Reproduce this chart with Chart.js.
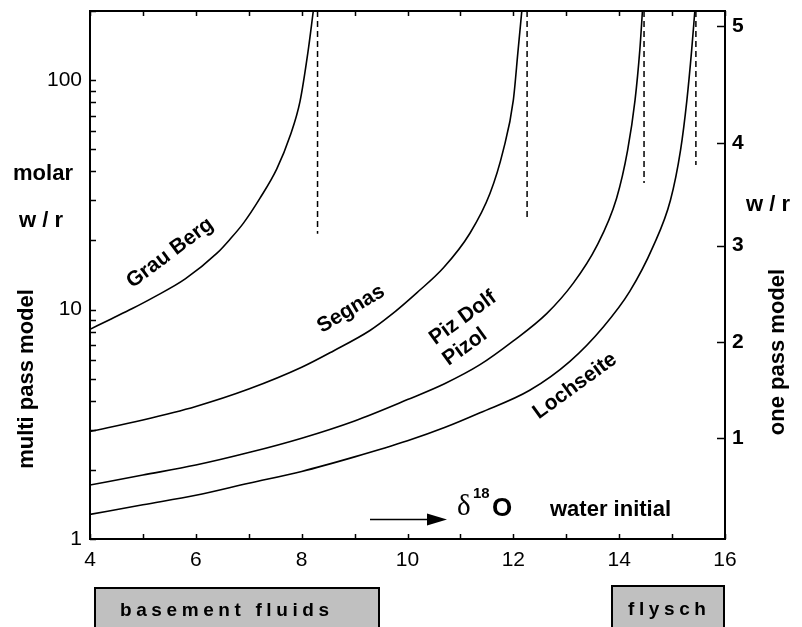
<!DOCTYPE html>
<html>
<head>
<meta charset="utf-8">
<script src="https://cdn.jsdelivr.net/npm/chart.js@4/dist/chart.umd.min.js"></script>
<style>
html,body{margin:0;padding:0;background:#fff;}
#wrap{width:802px;height:627px;position:relative;}
</style>
</head>
<body>
<div id="wrap"><canvas id="c" width="802" height="627"></canvas></div>
<script>
// x: initial δ18O of the water (‰), y: molar water/rock ratio (multi pass model)
const grauBergX = [4.0, 4.4, 4.8, 5.2, 5.8, 6.4, 6.65, 6.9, 7.21, 7.53, 7.78, 7.97, 8.12, 8.22];
const grauBergY = [8.2, 9.1, 10.1, 11.3, 13.6, 17.6, 20.3, 23.8, 30.5, 41, 57, 81, 133, 200];

const segnasX = [4.0, 5.0, 6.0, 7.0, 8.0, 8.6, 9.29, 9.67, 10.17, 10.68, 11.18, 11.56, 11.81, 12.0, 12.09, 12.16];
const segnasY = [2.94, 3.3, 3.78, 4.5, 5.6, 6.6, 8.1, 9.4, 11.8, 15.2, 21.5, 32.1, 49.5, 81.8, 135, 200];

const pizDolfX = [4.0, 5.0, 6.0, 7.0, 8.0, 9.0, 10.0, 10.7, 11.37, 12.0, 12.63, 13.13, 13.57, 13.95, 14.16, 14.3, 14.39, 14.44];
const pizDolfY = [1.72, 1.9, 2.1, 2.38, 2.75, 3.27, 4.05, 4.75, 5.75, 7.3, 9.6, 13.0, 18.8, 30.5, 49.5, 81.8, 135, 200];

const lochseiteX = [4.0, 5.0, 6.0, 7.0, 8.0, 9.0, 10.0, 10.7, 11.37, 12.31, 13.07, 13.7, 14.2, 14.64, 14.97, 15.16, 15.28, 15.37, 15.43];
const lochseiteY = [1.28, 1.41, 1.55, 1.75, 1.97, 2.28, 2.68, 3.06, 3.55, 4.45, 5.95, 8.4, 12.0, 18.8, 30.0, 49.5, 81.8, 135, 200];

// vertical dashed limits: position and lower end
const limitX = [8.3, 12.26, 14.47, 15.45];
const limitLow = [21.4, 25.0, 35.6, 42.6];
const limitHigh = 200;

// axes
const xTickValues = [4, 5, 6, 7, 8, 9, 10, 11, 12, 13, 14, 15, 16];
const xTickLabels = ['4', '', '6', '', '8', '', '10', '', '12', '', '14', '', '16'];
const yLabelValues = [1, 10, 100];
const yLabelTexts = ['1', '10', '100'];
const yMinorValues = [2, 3, 4, 5, 6, 7, 8, 9, 20, 30, 40, 50, 60, 70, 80, 90, 200];
// one pass model scale, placed at the equivalent multi pass ratio
const onePassLabels = ['1', '2', '3', '4', '5'];
const onePassAtMultiPass = [2.75, 7.2, 19.0, 53.0, 172.0];

const curveNames = ['Grau Berg', 'Segnas', 'Piz Dolf / Pizol', 'Lochseite'];

const FONT = '"Liberation Sans", Arial, Helvetica, sans-serif';

function curve(label, xs, ys) {
  return {
    label,
    data: xs.map((x, i) => ({ x, y: ys[i] })),
    borderColor: '#000',
    borderWidth: 1.6,
    pointRadius: 0,
    fill: false,
    cubicInterpolationMode: 'monotone',
    xAxisID: 'x',
    yAxisID: 'y'
  };
}

const datasets = [
  curve(curveNames[0], grauBergX, grauBergY),
  curve(curveNames[1], segnasX, segnasY),
  curve(curveNames[2], pizDolfX, pizDolfY),
  curve(curveNames[3], lochseiteX, lochseiteY)
];
limitX.forEach((x, i) => {
  datasets.push({
    label: 'limit ' + (i + 1),
    data: [{ x, y: limitHigh }, { x, y: limitLow[i] }],
    borderColor: '#000',
    borderWidth: 1.5,
    borderDash: [6, 4],
    pointRadius: 0,
    tension: 0,
    fill: false,
    xAxisID: 'x',
    yAxisID: 'y'
  });
});

function noPad(s) {
  s.paddingTop = 0; s.paddingBottom = 0; s.paddingLeft = 0; s.paddingRight = 0;
}

const decorations = {
  id: 'decorations',
  afterDraw(chart) {
    const ctx = chart.ctx;
    const a = chart.chartArea;
    const xs = chart.scales.x, ys = chart.scales.y, y2 = chart.scales.y2;
    ctx.save();
    ctx.strokeStyle = '#000';
    ctx.fillStyle = '#000';

    // frame
    ctx.lineWidth = 2;
    ctx.strokeRect(a.left, a.top, a.right - a.left, a.bottom - a.top);

    // inward tick marks
    ctx.lineWidth = 1.5;
    ctx.beginPath();
    xTickValues.forEach(v => {
      const px = Math.round(xs.getPixelForValue(v)) + 0.5;
      ctx.moveTo(px, a.bottom); ctx.lineTo(px, a.bottom - 5);
      ctx.moveTo(px, a.top); ctx.lineTo(px, a.top + 5);
    });
    yLabelValues.concat(yMinorValues).forEach(v => {
      const py = Math.round(ys.getPixelForValue(v)) + 0.5;
      ctx.moveTo(a.left, py); ctx.lineTo(a.left + 6, py);
    });
    onePassAtMultiPass.forEach(v => {
      const py = Math.round(y2.getPixelForValue(v)) + 0.5;
      ctx.moveTo(a.right, py); ctx.lineTo(a.right - 8, py);
    });
    ctx.stroke();

    // axis titles
    ctx.font = 'bold 22px ' + FONT;
    ctx.textAlign = 'center';
    ctx.textBaseline = 'middle';
    ctx.fillText('molar', 43, 174);
    ctx.fillText('w / r', 41, 221);
    ctx.fillText('w / r', 768, 205);
    ctx.save();
    ctx.translate(27, 379);
    ctx.rotate(-Math.PI / 2);
    ctx.fillText('multi pass model', 0, 0);
    ctx.restore();
    ctx.save();
    ctx.translate(778, 352);
    ctx.rotate(-Math.PI / 2);
    ctx.fillText('one pass model', 0, 0);
    ctx.restore();

    // curve names
    const tag = (t, x, y, deg) => {
      ctx.save();
      ctx.translate(x, y);
      ctx.rotate(deg * Math.PI / 180);
      ctx.fillText(t, 0, 0);
      ctx.restore();
    };
    ctx.font = 'bold 21px ' + FONT;
    tag('Grau Berg', 170, 253, -37);
    tag('Segnas', 351, 309, -31);
    tag('Piz Dolf', 463, 318, -36);
    tag('Pizol', 465, 347, -36);
    tag('Lochseite', 575, 386, -36);

    // arrow and δ18O water initial
    ctx.lineWidth = 1.6;
    ctx.beginPath();
    ctx.moveTo(370, 519.5); ctx.lineTo(432, 519.5);
    ctx.stroke();
    ctx.beginPath();
    ctx.moveTo(447, 519.5); ctx.lineTo(427, 513.5); ctx.lineTo(427, 525.5);
    ctx.closePath();
    ctx.fill();

    ctx.textAlign = 'left';
    ctx.textBaseline = 'alphabetic';
    ctx.font = '29px "Liberation Serif", "DejaVu Serif", serif';
    ctx.fillText('\u03b4', 457, 515);
    ctx.font = 'bold 15px ' + FONT;
    ctx.fillText('18', 473, 498);
    ctx.font = 'bold 26px ' + FONT;
    ctx.fillText('O', 492, 516);
    ctx.font = 'bold 22px ' + FONT;
    ctx.fillText('water initial', 550, 516);

    // source boxes below the axis
    ctx.fillStyle = '#c0c0c0';
    ctx.lineWidth = 2;
    ctx.fillRect(95, 588, 284, 45);
    ctx.strokeRect(95, 588, 284, 45);
    ctx.fillRect(612, 586, 112, 47);
    ctx.strokeRect(612, 586, 112, 47);
    ctx.fillStyle = '#000';
    ctx.font = 'bold 19px ' + FONT;
    if ('letterSpacing' in ctx) ctx.letterSpacing = '4.6px';
    ctx.fillText('basement fluids', 120, 616);
    ctx.fillText('flysch', 628, 615);
    ctx.restore();
  }
};

new Chart(document.getElementById('c'), {
  type: 'line',
  data: { datasets },
  plugins: [decorations],
  options: {
    responsive: false,
    maintainAspectRatio: false,
    devicePixelRatio: 1,
    animation: false,
    layout: { padding: { top: 11, left: 0, right: 0, bottom: 0 } },
    plugins: { legend: { display: false }, tooltip: { enabled: false } },
    scales: {
      x: {
        type: 'linear', position: 'bottom', min: 4, max: 16,
        afterBuildTicks: s => { s.ticks = xTickValues.map(v => ({ value: v })); },
        afterFit: s => { s.height = 88; noPad(s); },
        ticks: {
          autoSkip: false, maxRotation: 0, padding: 9, color: '#000',
          font: { family: FONT, size: 21 },
          callback: (v, i) => xTickLabels[i]
        },
        grid: { display: false, drawTicks: false },
        border: { display: false }
      },
      y: {
        type: 'logarithmic', position: 'left', min: 1, max: 200,
        afterBuildTicks: s => { s.ticks = yLabelValues.map(v => ({ value: v })); },
        afterFit: s => { s.width = 90; noPad(s); },
        ticks: {
          autoSkip: false, padding: 8, color: '#000',
          font: { family: FONT, size: 21 },
          callback: (v, i) => yLabelTexts[i]
        },
        grid: { display: false, drawTicks: false },
        border: { display: false }
      },
      y2: {
        type: 'logarithmic', position: 'right', min: 1, max: 200,
        afterBuildTicks: s => { s.ticks = onePassAtMultiPass.map(v => ({ value: v })); },
        afterFit: s => { s.width = 77; noPad(s); },
        ticks: {
          autoSkip: false, padding: 7, color: '#000',
          font: { family: FONT, size: 21, weight: 'bold' },
          callback: (v, i) => onePassLabels[i]
        },
        grid: { display: false, drawTicks: false },
        border: { display: false }
      }
    }
  }
});
</script>
</body>
</html>
